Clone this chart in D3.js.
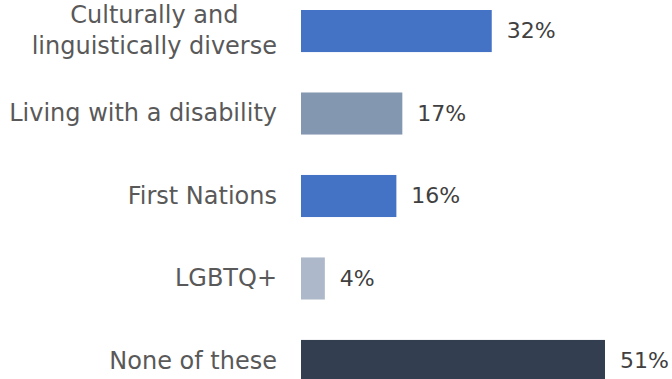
<!DOCTYPE html>
<html>
<head>
<meta charset="utf-8">
<script src="https://cdn.jsdelivr.net/npm/d3@7"></script>
<style>
  html, body { margin: 0; padding: 0; background: #ffffff; }
  svg { display: block; }
</style>
</head>
<body>
<svg id="chart" width="672" height="379"></svg>
<script>
// Share of respondents by group
const categories = [
  ["Culturally and", "linguistically diverse"],
  ["Living with a disability"],
  ["First Nations"],
  ["LGBTQ+"],
  ["None of these"]
];
const values = [32, 17, 16, 4, 51];
const barColors = ["#4472C4", "#8497B0", "#4472C4", "#ADB9CA", "#333F50"];

const svg = d3.select("#chart");
const fontFamily = "'DejaVu Sans', sans-serif";
const labelRight = 277;

const x = d3.scaleLinear().domain([0, 51]).range([301, 605]);
const y = d3.scaleBand()
  .domain(d3.range(values.length))
  .range([10, 382])
  .paddingInner(0.49)
  .paddingOuter(0);

const rows = svg.append("g")
  .selectAll("g")
  .data(values)
  .join("g");

rows.append("rect")
  .attr("x", x(0))
  .attr("y", (d, i) => y(i))
  .attr("width", d => x(d) - x(0))
  .attr("height", y.bandwidth())
  .attr("fill", (d, i) => barColors[i]);

rows.append("text")
  .attr("x", d => x(d) + 15)
  .attr("y", (d, i) => y(i) + y.bandwidth() / 2)
  .attr("dy", "0.33em")
  .attr("font-family", fontFamily)
  .attr("font-size", 22)
  .attr("fill", "#404040")
  .text(d => d + "%");

// Category labels: block right-aligned against the bars, lines centred within it
const lineGap = 31;
const labels = svg.append("g")
  .selectAll("text")
  .data(categories)
  .join("text")
  .attr("text-anchor", "middle")
  .attr("font-family", fontFamily)
  .attr("font-size", 24)
  .attr("fill", "#595959");

labels.each(function (lines, i) {
  const t = d3.select(this);
  const cy = y(i) + y.bandwidth() / 2;
  const spans = t.selectAll("tspan")
    .data(lines)
    .join("tspan")
    .attr("y", (d, j) => cy + (j - (lines.length - 1) / 2) * lineGap)
    .attr("dy", "0.33em")
    .text(d => d);
  let maxW = 0;
  spans.each(function () { maxW = Math.max(maxW, this.getComputedTextLength()); });
  spans.attr("x", labelRight - maxW / 2);
});
</script>
</body>
</html>
